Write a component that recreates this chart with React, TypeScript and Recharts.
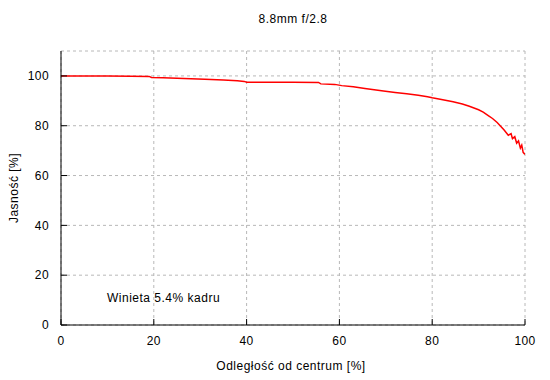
import React from 'react';
import { LineChart, Line, XAxis, YAxis, CartesianGrid } from 'recharts';

const distance = [
  0, 5, 10, 15, 19, 19.5, 22, 25, 28, 31, 35, 38, 39.5, 40, 45, 50, 55.5, 56, 59, 60.5,
  63, 65.5, 67.5, 69.5, 72, 74.5, 77, 79, 80, 82, 84.5, 86.5, 88, 90, 91, 92, 93, 94,
  94.6, 95.5, 96.4, 97.0, 97.3, 97.8, 98.2, 98.6, 99, 99.3, 99.6, 100,
];
const brightness = [
  100, 100, 99.95, 99.9, 99.8, 99.4, 99.3, 99.1, 98.9, 98.7, 98.4, 98.1, 97.8, 97.5, 97.5, 97.5, 97.4, 96.8, 96.6, 96.1,
  95.6, 94.9, 94.4, 93.9, 93.3, 92.8, 92.2, 91.6, 91.2, 90.5, 89.6, 88.7, 87.8, 86.4, 85.5, 84.2, 82.9, 81.3,
  80.1, 78.3, 76.2, 76.8, 74.8, 75.6, 73.0, 73.9, 71.0, 72.2, 69.3, 68.5,
];
const xTicks = [0, 20, 40, 60, 80, 100];
const yTicks = [0, 20, 40, 60, 80, 100];

const titleText = '8.8mm f/2.8';
const xLabel = 'Odległość od centrum [%]';
const yLabel = 'Jasność [%]';
const noteText = 'Winieta 5.4% kadru';

const data = distance.map((x, i) => ({ x, y: brightness[i] }));

const font = '"Liberation Sans", Arial, sans-serif';
const tickStyle = { fill: '#000', fontSize: 12, fontFamily: font, letterSpacing: 0.4 };

export default function App() {
  return (
    <div style={{ position: 'absolute', left: 0, top: 0, width: 550, height: 380, background: '#fff' }}>
      <LineChart width={550} height={380} data={data} margin={{ top: 51, right: 25, bottom: 0, left: 0 }}>
        <CartesianGrid xAxisId="b" yAxisId="l" stroke="#b8b8b8" strokeDasharray="3 3" />
        <XAxis xAxisId="b" dataKey="x" type="number" domain={[0, 100]} ticks={xTicks} interval={0}
          height={55} tickSize={-6} tickMargin={17} stroke="#000" tick={tickStyle} allowDataOverflow />
        <XAxis xAxisId="t" orientation="top" dataKey="x" type="number" domain={[0, 100]} ticks={xTicks} interval={0}
          height={0} tickSize={-6} tick={false} stroke="#000" />
        <YAxis yAxisId="l" type="number" domain={[0, 110]} ticks={yTicks} interval={0}
          width={61} tickSize={-6} tickMargin={18} stroke="#000" tick={tickStyle} allowDataOverflow />
        <YAxis yAxisId="r" orientation="right" type="number" domain={[0, 110]} ticks={yTicks} interval={0}
          width={0} tickSize={-6} tick={false} stroke="#000" />
        <Line xAxisId="b" yAxisId="l" type="linear" dataKey="y" stroke="#ff0000" strokeWidth={1.5}
          dot={false} isAnimationActive={false} />
      </LineChart>
      <svg width={550} height={380} style={{ position: 'absolute', left: 0, top: 0, pointerEvents: 'none' }}>
        <g fontFamily={font} fontSize={12} fill="#000" letterSpacing={0.5}>
          <text x={293} y={23} textAnchor="middle">{titleText}</text>
          <text x={291} y={370} textAnchor="middle">{xLabel}</text>
          <text x={18} y={188} textAnchor="middle" transform="rotate(-90 18 188)">{yLabel}</text>
          <text x={107} y={302} textAnchor="start">{noteText}</text>
        </g>
      </svg>
    </div>
  );
}
